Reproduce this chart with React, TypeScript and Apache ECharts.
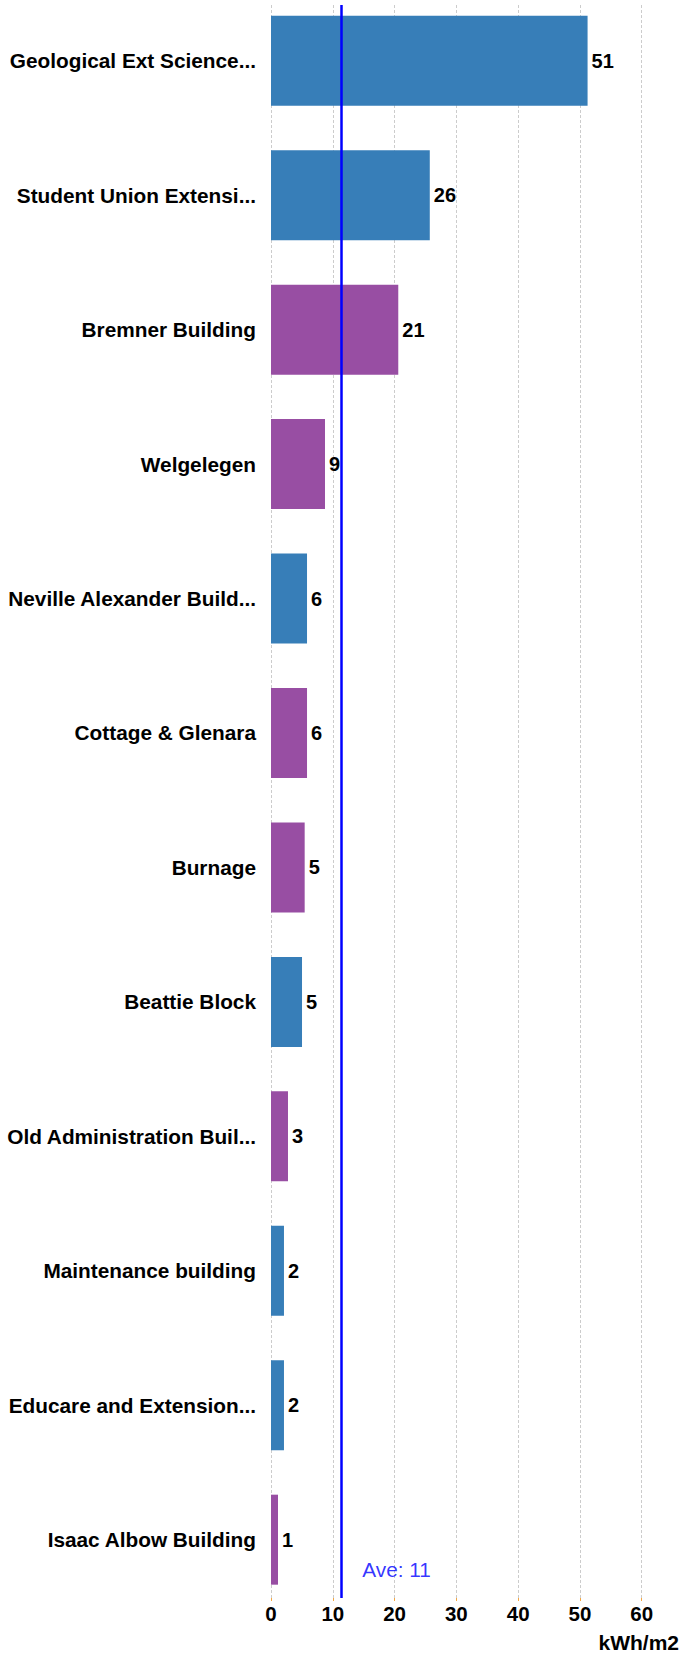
import React, { useEffect, useRef } from "react";
import * as echarts from "echarts";

const categories = [
  "Geological Ext Science...",
  "Student Union Extensi...",
  "Bremner Building",
  "Welgelegen",
  "Neville Alexander Build...",
  "Cottage & Glenara",
  "Burnage",
  "Beattie Block",
  "Old Administration Buil...",
  "Maintenance building",
  "Educare and Extension...",
  "Isaac Albow Building",
];
const values = [51.24, 25.7, 20.6, 8.74, 5.83, 5.83, 5.45, 5.02, 2.75, 2.1, 2.1, 1.13];
const groups = ["A", "A", "B", "B", "A", "B", "B", "A", "B", "A", "A", "B"];
const groupColors: Record<string, string> = { A: "#377eb8", B: "#984ea3" };
const averageValue = 11.3;
const xTicks = { min: 0, max: 60, interval: 10 };
const unitLabel = "kWh/m2";

const FONT = '"Liberation Sans", Arial, Helvetica, sans-serif';

export default function App() {
  const ref = useRef<HTMLDivElement>(null);
  useEffect(() => {
    document.body.style.margin = "0";
    if (!ref.current) return;
    const chart = echarts.init(ref.current, null, { renderer: "svg" });
    const gridLeft = 271;
    const gridWidth = 370.7;
    chart.setOption({
      animation: false,
      grid: [
        {
          left: gridLeft,
          width: gridWidth,
          top: -6.5,
          height: 1613.4,
          containLabel: false,
          outerBoundsMode: "none",
        },
        {
          left: gridLeft,
          width: gridWidth,
          top: 5,
          height: 1593,
          containLabel: false,
          outerBoundsMode: "none",
        },
      ],
      xAxis: [
        {
          gridIndex: 0,
          type: "value",
          min: xTicks.min,
          max: xTicks.max,
          interval: xTicks.interval,
          show: false,
        },
        {
          gridIndex: 1,
          type: "value",
          min: xTicks.min,
          max: xTicks.max,
          interval: xTicks.interval,
          axisLine: { show: false },
          axisTick: { show: true, length: 3, lineStyle: { color: "#f5a742", width: 1 } },
          axisLabel: {
            margin: 5,
            color: "#000",
            fontWeight: "bold",
            fontSize: 20.5,
            fontFamily: FONT,
          },
          splitLine: {
            show: true,
            lineStyle: { color: "#cccccc", width: 1, type: [3, 2] },
          },
        },
      ],
      yAxis: [
        {
          gridIndex: 0,
          type: "category",
          data: categories,
          inverse: true,
          axisLine: { show: false },
          axisTick: { show: false },
          splitLine: { show: false },
          axisLabel: {
            margin: 15,
            color: "#000",
            fontWeight: "bold",
            fontSize: 20.8,
            fontFamily: FONT,
          },
        },
        {
          gridIndex: 1,
          type: "value",
          min: 0,
          max: 1,
          show: false,
        },
      ],
      series: [
        {
          type: "bar",
          xAxisIndex: 0,
          yAxisIndex: 0,
          barWidth: 90,
          z: 2,
          data: values.map((v, i) => ({
            value: v,
            itemStyle: { color: groupColors[groups[i]] },
          })),
          label: {
            show: true,
            position: "right",
            distance: 4,
            color: "#000",
            fontWeight: "bold",
            fontSize: 20,
            fontFamily: FONT,
            formatter: (p: any) => String(Math.round(p.value)),
          },
        },
        {
          type: "scatter",
          xAxisIndex: 1,
          yAxisIndex: 1,
          z: 5,
          symbolSize: 1,
          itemStyle: { color: "rgba(0,0,0,0)" },
          data: [[averageValue, 0.018]],
          label: {
            show: true,
            position: "right",
            distance: 21,
            color: "#0000ff",
            fontSize: 20.8,
            fontFamily: FONT,
            formatter: () => `Ave: ${Math.round(averageValue)}`,
          },
          markLine: {
            silent: true,
            symbol: "none",
            label: { show: false },
            lineStyle: { color: "#0000ff", width: 2.5, type: "solid" },
            data: [{ xAxis: averageValue }],
          },
        },
      ],
      graphic: [
        {
          type: "text",
          right: 1,
          top: 1632,
          style: {
            text: unitLabel,
            fill: "#000",
            font: `bold 21px ${FONT}`,
          },
        },
      ],
    });
    return () => chart.dispose();
  }, []);
  return <div ref={ref} style={{ width: 680, height: 1654 }} />;
}
